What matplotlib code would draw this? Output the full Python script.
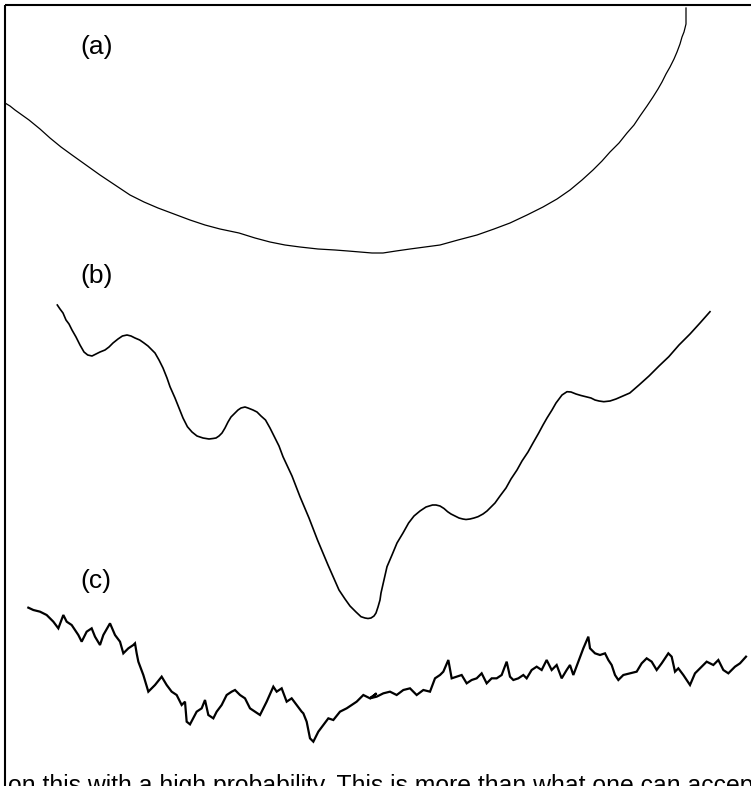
import matplotlib
matplotlib.use("Agg")
import matplotlib.pyplot as plt

# ---- data (in figure pixel units) ----
a_x = [5, 10, 15, 22, 29, 40, 50, 61, 72, 86, 100, 115, 130, 144, 158, 174, 190, 205,
       220, 239, 255, 270, 285, 300, 318, 335, 348, 360, 372, 383, 396, 410, 425, 440,
       458, 477, 494, 510, 527, 543, 557, 570, 582, 593, 602, 610, 619, 627, 634, 640,
       647, 653, 658, 662, 666, 670, 674, 677, 680, 682, 684, 685, 686, 686, 686, 686]
a_y = [103, 106, 110, 115, 120, 129, 138, 147, 155, 165, 175, 185, 195, 202, 208, 214,
       220, 225, 229, 233, 238, 242, 245, 247, 249, 250, 251, 252, 253, 253, 251, 249,
       247, 245, 240, 235, 229, 223, 215, 207, 199, 190, 180, 170, 161, 152, 143, 133,
       125, 116, 106, 97, 89, 82, 74, 67, 59, 52, 44, 37, 32, 28, 24, 20, 14, 8]

b_x = [57.3, 60, 63, 66, 69, 72, 76, 80, 84, 87.7, 92, 96, 100, 105, 109, 113, 118,
       122.4, 127, 131, 135, 139.7, 144, 148, 152, 155, 159, 163, 167, 170, 175, 179,
       183, 187.4, 192, 197, 203, 209, 213, 216, 219, 222, 225, 228, 231, 235, 238,
       241, 245, 248, 253, 257, 261, 265.5, 270, 274, 279, 283, 292, 300, 309, 317.5,
       328, 339, 345, 350, 356, 361, 365, 368, 371, 374, 376, 378, 380, 381, 384, 387,
       392, 397, 403, 408.6, 414, 420, 426, 432.5, 436, 440, 444, 447.6, 451, 455, 459,
       462.8, 466, 470, 474, 478, 483, 487, 491, 495, 500, 506, 511, 517, 522, 528, 533,
       538.7, 543, 547, 552, 556, 559, 562, 565, 567, 571, 576, 581, 586, 591, 595, 599,
       603.8, 610, 616, 623, 629.8, 639, 649, 659, 668.8, 679, 690, 700, 710]
b_y = [305, 309, 313, 320, 324, 330, 337, 345, 352, 355, 356, 354, 352, 350, 347,
       343, 339, 336, 335, 336, 338, 340, 343, 346, 350, 353, 360, 368, 378, 386.7,
       398, 408, 418, 426.7, 432, 436, 438, 439, 438.5, 438, 436, 433, 428, 422, 417,
       413, 410, 408, 407, 408, 410, 412, 416, 420, 428, 436, 446, 456.7, 476, 496.7,
       518, 540, 565, 590, 599, 606, 612, 616.7, 618, 618.5, 618, 616, 613, 607, 600,
       593, 580, 566.7, 555, 543, 533, 523, 516, 511, 507, 505, 505, 506, 508.5, 511.7,
       514, 516, 518, 519, 519.5, 519, 518, 516.7, 514, 511, 507, 503, 496, 488, 479,
       470, 461, 452, 443, 433, 425, 418, 410, 403, 399, 395, 393, 391.7, 392, 394,
       395.5, 396.7, 398, 400, 401, 401.7, 401, 399, 396, 393, 385, 376, 366, 356.7,
       345, 334, 323, 311.7]

c_xd_left = [85, 100, 120, 140, 160, 175, 190, 200, 215, 235, 245, 260, 275, 285, 300, 310,
             330, 345, 360, 370, 385, 400, 405, 410, 415, 430, 445, 455, 465, 485, 500, 515,
             530, 545, 555, 560, 570, 590, 605, 615, 625, 640, 650, 665, 680, 695, 705, 720,
             735, 750, 765, 780, 800, 820, 830, 845, 860, 875, 890, 905, 910, 920, 930, 940,
             955, 970, 985, 1000, 1020, 1040, 1055, 1070, 1090, 1110, 1130]
c_yd_left = [38, 45, 50, 60, 80, 100, 60, 80, 90, 120, 140, 110, 100, 125, 150, 120,
             85, 120, 140, 175, 160, 150, 145, 175, 200, 240, 290, 280, 270, 245, 270, 290,
             300, 330, 320, 380, 388, 350, 340, 315, 360, 370, 350, 330, 300, 290, 285, 300,
             310, 340, 350, 360, 320, 275, 290, 280, 320, 310, 330, 350, 355, 380, 430, 440,
             410, 390, 370, 375, 350, 340, 330, 320, 300, 310, 295]
c_xd_right = [0, 20, 40, 60, 80, 100, 120, 140, 160, 180, 195, 210, 220, 235, 245, 260,
              275, 290, 305, 320, 335, 350, 365, 380, 395, 410, 420, 430, 445, 460, 470, 485,
              500, 515, 530, 545, 560, 575, 590, 600, 610, 625, 640, 655, 660, 675, 690, 705,
              715, 725, 735, 745, 760, 780, 800, 815, 830, 845, 860, 875, 895, 905, 915, 925,
              940, 960, 975, 995, 1010, 1030, 1045, 1060, 1075, 1095, 1110, 1128]
c_yd_right = [310, 305, 295, 290, 300, 285, 280, 300, 285, 290, 250, 240, 230, 195, 250, 245,
              240, 265, 255, 250, 235, 265, 250, 250, 240, 200, 245, 255, 250, 240, 250, 225,
              215, 225, 195, 225, 210, 250, 225, 210, 240, 200, 160, 125, 160, 175, 180, 175,
              195, 210, 240, 255, 240, 235, 230, 205, 190, 200, 225, 205, 175, 185, 230, 220,
              240, 270, 235, 215, 200, 210, 195, 225, 235, 215, 205, 185]

labels = ["(a)", "(b)", "(c)"]
label_x = [80, 80, 80]
label_y = [47, 276, 581]
caption = "on this with a high probability. This is more than what one can accept"

# convert zoom readings of curve (c) to figure pixel units
c_x = [xd / 3 for xd in c_xd_left] + [370 + xd / 3 for xd in c_xd_right]
c_y = [595 + yd / 3 for yd in c_yd_left] + [595 + yd / 3 for yd in c_yd_right]

W, H = 751, 786
fig = plt.figure(figsize=(W / 100, H / 100), dpi=100)
ax = fig.add_axes([0, 0, 1, 1])
ax.set_xlim(0, W)
ax.set_ylim(H, 0)
ax.axis("off")

# frame (top and left edges)
ax.plot([4.5, W], [4.5, 4.5], color="black", lw=1.5, solid_capstyle="butt")
ax.plot([4.5, 4.5], [4.5, H], color="black", lw=1.5, solid_capstyle="butt")

ax.plot(a_x, a_y, color="black", lw=0.9, solid_joinstyle="round")
ax.plot(b_x, b_y, color="black", lw=1.2, solid_joinstyle="round")
ax.plot(c_x, c_y, color="black", lw=1.6, solid_joinstyle="miter")

for t, x, y in zip(labels, label_x, label_y):
    ax.text(x, y, t, fontsize=19, family="Liberation Sans", ha="left", va="center",
            color="black")

ax.text(8, 774, caption, fontsize=17.8, family="Liberation Sans", ha="left", va="top",
        color="black", clip_on=False)

fig.savefig("out.png", dpi=100)
